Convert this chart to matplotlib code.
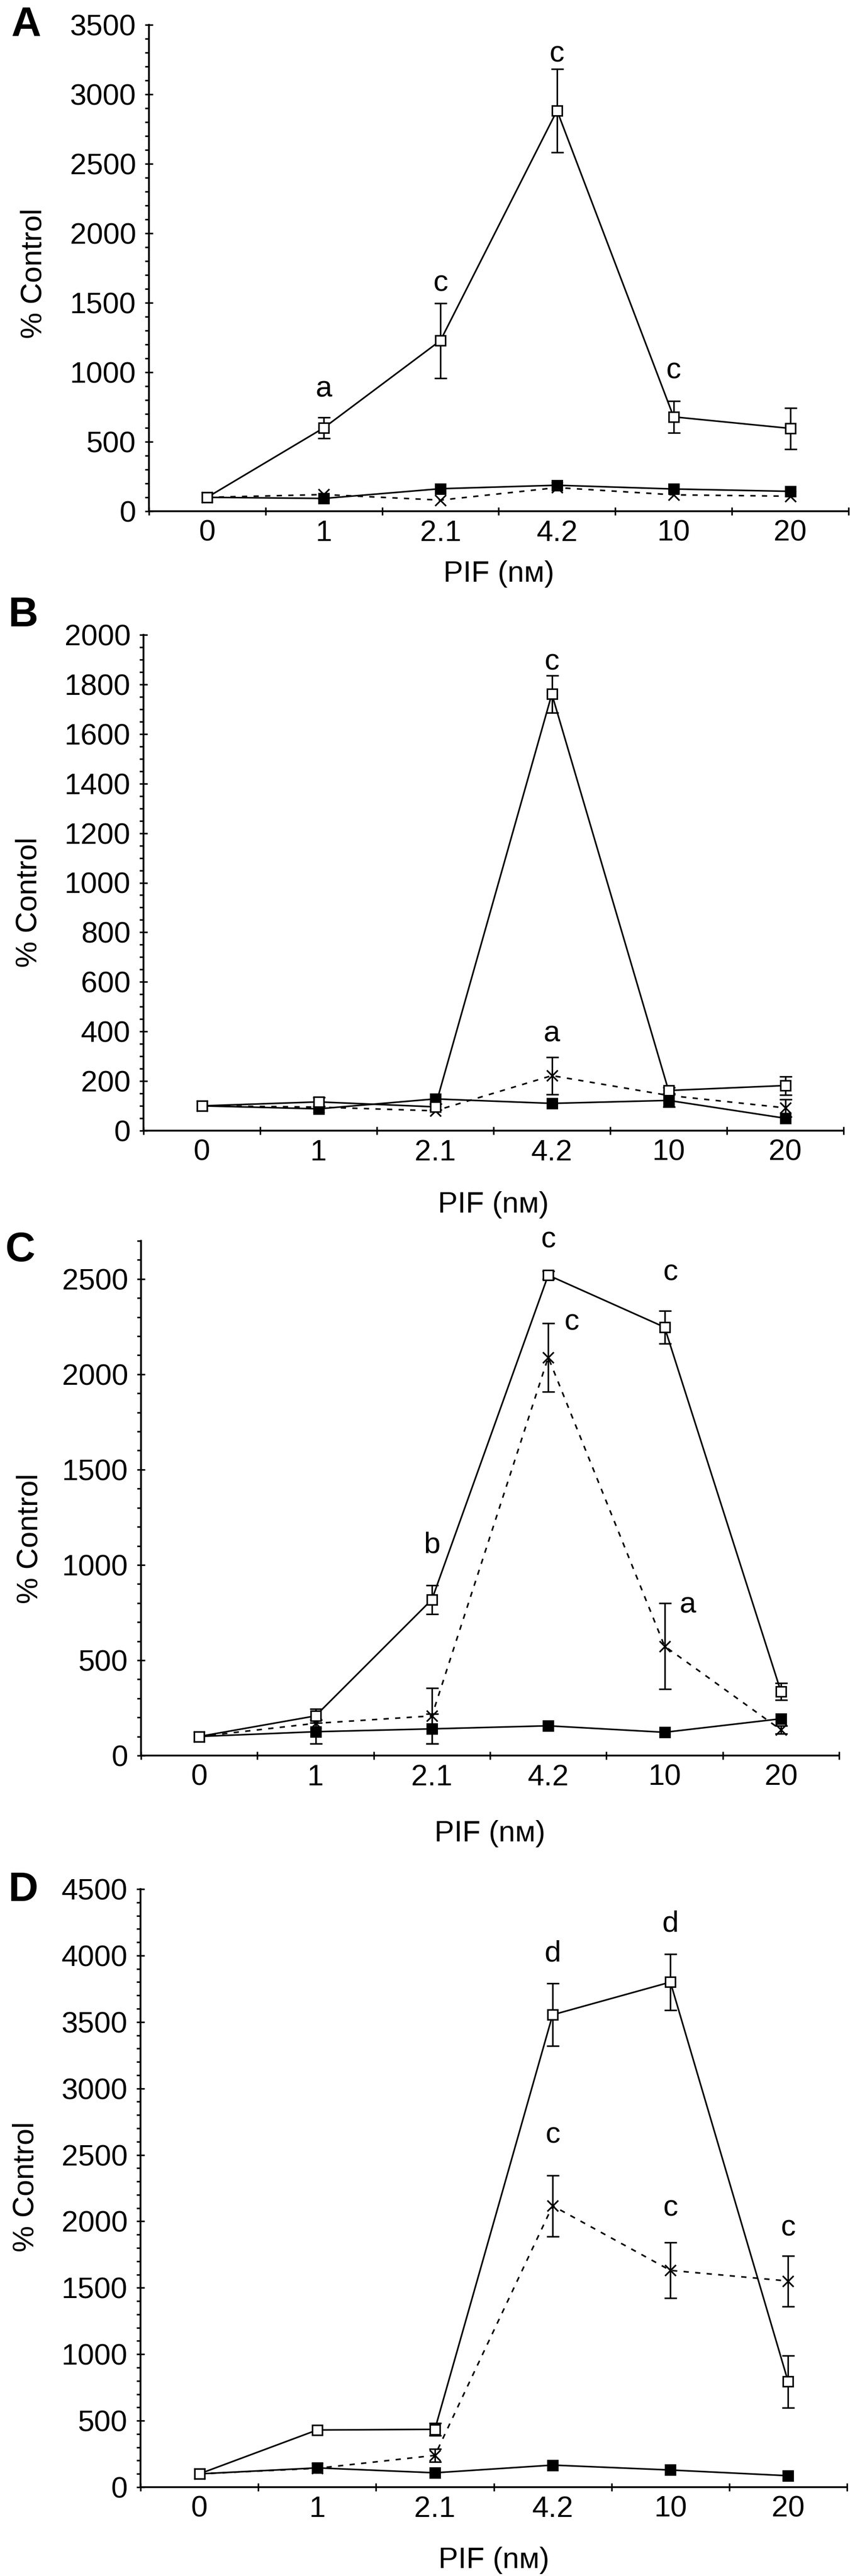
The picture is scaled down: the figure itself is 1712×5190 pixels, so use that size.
import matplotlib
matplotlib.use('Agg')
import matplotlib.pyplot as plt
from matplotlib.ticker import MultipleLocator

plt.rcParams['font.family'] = ['Liberation Sans', 'DejaVu Sans']

doses = ['0', '1', '2.1', '4.2', '10', '20']

# panel A
a_open = [100, 600, 1228, 2883, 679, 596]
a_open_err = [0, 75, 270, 300, 113, 148]
a_fill = [100, 92, 162, 187, 160, 143]
a_fill_err = [0, 0, 0, 0, 0, 0]
a_cross = [100, 120, 80, 170, 118, 108]
a_cross_err = [0, 0, 0, 0, 0, 0]
a_letters = [('a', 1, 880), ('c', 2, 1640), ('c', 3, 3290), ('c', 4, 1010)]

# panel B
b_open = [100, 116, 96, 1761, 162, 182]
b_open_err = [0, 18, 12, 75, 12, 37]
b_fill = [100, 88, 128, 110, 122, 50]
b_fill_err = [0, 0, 0, 0, 25, 0]
b_cross = [100, 95, 80, 222, 142, 92]
b_cross_err = [0, 0, 0, 75, 0, 35]
b_letters = [('c', 3, 1890), ('a', 3, 390)]

# panel C
c_open = [100, 208, 818, 2520, 2247, 336]
c_open_err = [0, 37, 75, 20, 85, 45]
c_fill = [100, 125, 140, 156, 122, 193]
c_fill_err = [0, 63, 78, 0, 0, 0]
c_cross = [100, 169, 208, 2089, 574, 135]
c_cross_err = [0, 0, 146, 180, 225, 20]
c_letters = [('b', 2, 1104), ('c', 3, 2705), ('c', 4.05, 2533),
             ('c', 3.2, 2273), ('a', 4.2, 790)]

# panel D
d_open = [100, 430, 435, 3554, 3800, 794]
d_open_err = [0, 0, 48, 235, 210, 195]
d_fill = [100, 145, 108, 166, 129, 86]
d_fill_err = [0, 0, 0, 0, 0, 0]
d_cross = [100, 142, 239, 2117, 1631, 1551]
d_cross_err = [0, 0, 50, 230, 210, 190]
d_letters = [('d', 3, 4015), ('d', 4, 4240), ('c', 3, 2646), ('c', 4, 2098), ('c', 5, 1951)]

W, H = 1712, 5190
fig = plt.figure(figsize=(W / 100, H / 100), dpi=100)

# (name, open, open_err, fill, fill_err, cross, cross_err, letters, ymax, major, minor,
#  left, right, top, bottom, ylabel center, xlabel y, panel letter)
panels = [
    ('A', a_open, a_open_err, a_fill, a_fill_err, a_cross, a_cross_err, a_letters,
     3500, 500, 100, 300, 1709, 50, 1030, (68, 551), 1157, (23, 50)),
    ('B', b_open, b_open_err, b_fill, b_fill_err, b_cross, b_cross_err, b_letters,
     2000, 200, 50, 289, 1699, 1279, 2278, (58, 1818), 2428, (16, 1240)),
    ('C', c_open, c_open_err, c_fill, c_fill_err, c_cross, c_cross_err, c_letters,
     2700, 500, 100, 284, 1690, 2500, 3537, (60, 3100), 3694, (11, 2519)),
    ('D', d_open, d_open_err, d_fill, d_fill_err, d_cross, d_cross_err, d_letters,
     4500, 500, 100, 283, 1706, 3806, 5011, (52, 4406), 5159, (16, 3808)),
]

FS = 43
LW = 2.3


def draw_series(ax, y, err, marker, face, ls, ms, z):
    x = list(range(len(y)))
    ex = [i for i, e in enumerate(err) if e > 0]
    if ex:
        ax.errorbar(ex, [y[i] for i in ex], yerr=[err[i] for i in ex], fmt='none',
                    ecolor='black', elinewidth=LW, capsize=9, capthick=LW,
                    zorder=2, clip_on=False)
    ax.plot(x, y, color='black', lw=LW, ls=ls, zorder=3, clip_on=False)
    ax.plot(x, y, ls='none', marker=marker, ms=ms, mfc=face, mec='black',
            mew=LW, zorder=z, clip_on=False)


for (name, op, ope, fi, fie, cr, cre, letters, ymax, major, minor,
     left, right, top, bottom, ylab, xlab_y, plab) in panels:
    ax = fig.add_axes([left / W, 1 - bottom / H, (right - left) / W, (bottom - top) / H])
    draw_series(ax, cr, cre, 'x', 'black', (0, (3.3, 4.0)), 16, 4)
    draw_series(ax, fi, fie, 's', 'black', '-', 14, 5)
    draw_series(ax, op, ope, 's', 'white', '-', 14, 6)

    ax.set_xlim(-0.5, 5.5)
    ax.set_ylim(0, ymax)
    ax.set_xticks([i - 0.5 for i in range(7)])
    ax.set_xticklabels([])
    ax.set_xticks(range(6), minor=True)
    ax.set_xticklabels(doses, minor=True)
    ax.yaxis.set_major_locator(MultipleLocator(major))
    ax.yaxis.set_minor_locator(MultipleLocator(minor))
    ax.tick_params(axis='y', which='major', direction='inout', length=11.5, width=LW,
                   labelsize=FS, pad=13)
    ax.tick_params(axis='y', which='minor', direction='out', length=5.8, width=LW)
    ax.tick_params(axis='x', which='major', direction='inout', length=12, width=LW)
    ax.tick_params(axis='x', which='minor', length=0, labelsize=FS, pad=12)
    for s in ['top', 'right']:
        ax.spines[s].set_visible(False)
    for s in ['left', 'bottom']:
        ax.spines[s].set_linewidth(LW + 0.3)

    for txt, xp, yp in letters:
        ax.text(xp, yp, txt, fontsize=FS, ha='center', va='center', zorder=7)

    fig.text(ylab[0] / W, 1 - ylab[1] / H, '% Control', rotation=90, fontsize=FS,
             ha='center', va='center')
    fig.text((left + right) / 2 / W, 1 - xlab_y / H, 'PIF (nᴍ)', fontsize=FS,
             ha='center', va='center')
    fig.text(plab[0] / W, 1 - plab[1] / H, name, fontsize=60, fontweight='bold',
             ha='left', va='center')

fig.savefig('out.png', dpi=100)
